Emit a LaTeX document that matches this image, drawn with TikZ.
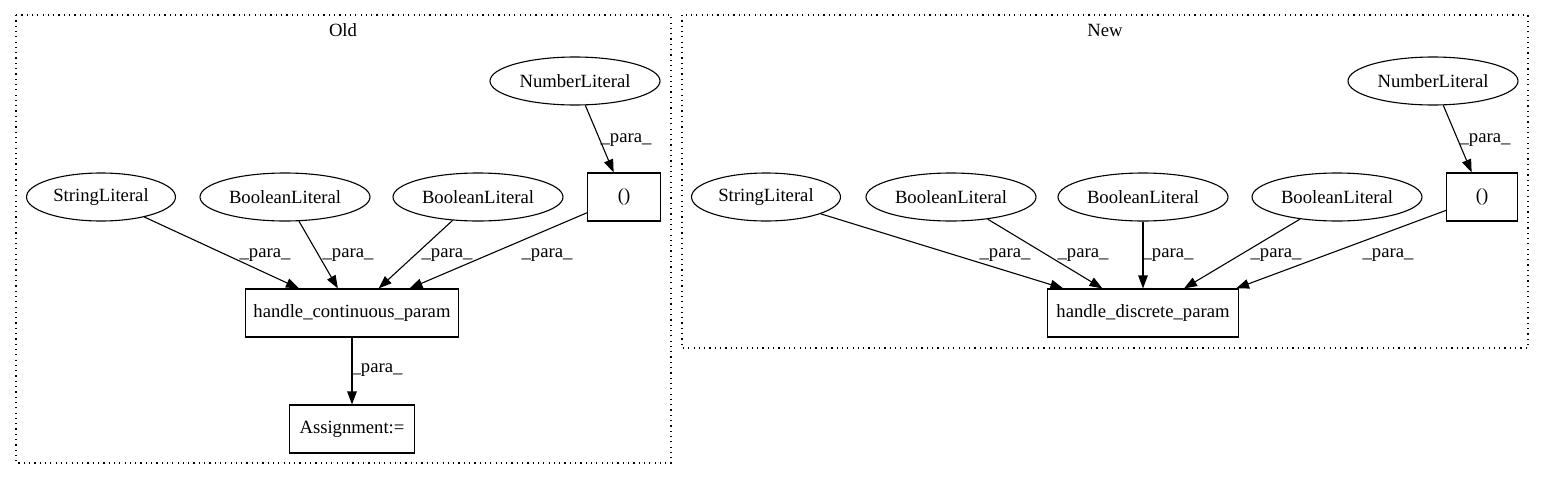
\documentclass[tikz,border=0pt]{standalone}
\usepackage{fontspec}
\setmainfont{Liberation Serif}
\usetikzlibrary{shapes.geometric,arrows.meta}

\tikzset{
	lit/.style={draw,ellipse,inner sep=0pt,minimum height=48pt,minimum width=170pt},
	op/.style={draw,rectangle,inner sep=0pt,minimum height=48pt},
	para/.style={draw,-{Triangle[length=13pt,width=9.5pt]}},
	lbl/.style={inner sep=0pt},
	cluster/.style={draw,line width=1.2pt,dash pattern=on 1.2pt off 4.1pt}
}

\begin{document}
\begin{tikzpicture}[x=1pt,y=-1pt,line width=1.1pt,font=\fontsize{18.67}{22}\selectfont]
	\useasboundingbox (0,0) rectangle (1545,480);
	% Old
	\draw[cluster] (16,15) rectangle (671,463);
	\node (oldtitle) at(343,30) {Old};
	\node[lit] (onum) at(575,81) {NumberLiteral};
	\node[op,minimum width=73pt] (otup) at(624,197) {()};
	\node[lit,minimum width=149pt] (ostr) at(101,197) {StringLiteral};
	\node[lit] (obool1) at(285,197) {BooleanLiteral};
	\node[lit] (obool2) at(478,197) {BooleanLiteral};
	\node[op,minimum width=213pt] (ohcp) at(352,313) {handle\_continuous\_param};
	\node[op,minimum width=125pt] (oasg) at(352,429) {Assignment:=};
	\draw[para] (onum) -- (otup) node[lbl] (l-onum) at(626,140) {\_para\_};
	\foreach \s/\lx in {ostr/265,obool1/348,obool2/447,otup/547}
		\draw[para] (\s) -- (ohcp) node[lbl] (l-\s) at(\lx,255) {\_para\_};
	\draw[para] (ohcp) -- (oasg) node[lbl] (l-ohcp) at(377,370) {\_para\_};
	% New
	\draw[cluster] (682,15) rectangle (1528,348);
	\node (newtitle) at(1105,30) {New};
	\node[lit] (nnum) at(1433,81) {NumberLiteral};
	\node[op,minimum width=71pt] (ntup) at(1482,197) {()};
	\node[lit,minimum width=149pt] (nstr) at(766,197) {StringLiteral};
	\node[lit] (nbool1) at(951,197) {BooleanLiteral};
	\node[lit] (nbool2) at(1143,197) {BooleanLiteral};
	\node[lit] (nbool3) at(1337,197) {BooleanLiteral};
	\node[op,minimum width=191pt] (nhdp) at(1143,313) {handle\_discrete\_param};
	\draw[para] (nnum) -- (ntup) node[lbl] (l-nnum) at(1485,140) {\_para\_};
	\foreach \s/\lx in {nstr/1005,nbool1/1083,nbool2/1168,nbool3/1276}
		\draw[para] (\s) -- (nhdp) node[lbl] (l-\s) at(\lx,255) {\_para\_};
	\draw[para] (ntup) -- ([xshift=-3pt]nhdp.north east) node[lbl] (l-ntup) at(1388,255) {\_para\_};
\end{tikzpicture}
\end{document}
